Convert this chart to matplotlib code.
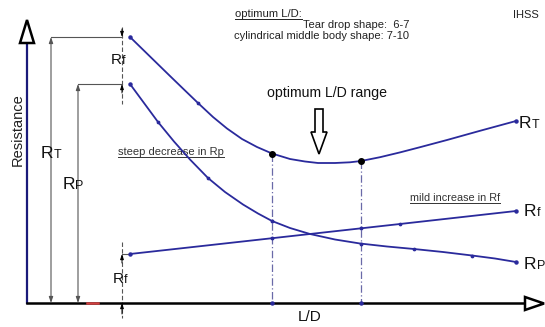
import numpy as np
import matplotlib
matplotlib.use('Agg')
import matplotlib.pyplot as plt
from matplotlib.patches import Polygon

plt.rcParams['font.family'] = ['Liberation Sans', 'DejaVu Sans']

# schematic drawn in picture units (x = L/D position, y = resistance level, y grows downward)
rt_x = [130, 150, 170, 185, 198, 213, 227, 242, 257, 272, 290, 305, 318, 335, 350, 361, 380, 400, 420, 447, 480, 516]
rt_y = [37, 56.5, 76, 90.5, 103, 117, 128.5, 139, 147, 153.5, 159, 161.5, 163, 163, 162.3, 161, 157.2, 152.4, 147.2, 140, 130.8, 121]

rp_x = [130, 144, 158, 174, 190, 208, 225, 243, 258, 272, 290, 310, 335, 360, 387, 414, 443, 472, 495, 516]
rp_y = [84, 103, 122, 141.5, 159.5, 178, 192, 204.5, 213.5, 221, 228, 234, 239.5, 243.5, 246.5, 249, 252, 255.5, 258.5, 262]

rf_x = [130, 400, 516]
rf_y = [254, 224, 211]

opt_x = [272, 361]
opt_y = [153.5, 161]

rt_marks = [4]
rp_marks = [2, 5, 15, 17]
rf_marks = [1]

axis_y = 303
curve_col = '#2a2a9c'
dim_col = '#555555'

fig = plt.figure(figsize=(5.45, 3.27), dpi=100)
ax = fig.add_axes([0, 0, 1, 1])
ax.set_xlim(0, 545)
ax.set_ylim(327, 0)
ax.axis('off')

# axes
ax.plot([27, 27], [axis_y, 43], color='#1a1a7a', lw=1.6, zorder=3)
ax.plot([27, 525], [axis_y, axis_y], color='black', lw=1.8, zorder=3)
ax.add_patch(Polygon([(20, 43), (27, 20), (34, 43)], closed=True, fc='white', ec='black', lw=1.8, zorder=4))
ax.add_patch(Polygon([(525, 297), (544, 303.5), (525, 310)], closed=True, fc='white', ec='black', lw=1.8, zorder=4))
ax.plot([87, 98], [axis_y, axis_y], color='#d04040', lw=1.8, zorder=4)

# curves
for xs, ys, marks in [(rt_x, rt_y, rt_marks), (rp_x, rp_y, rp_marks), (rf_x, rf_y, rf_marks)]:
    ax.plot(xs, ys, color=curve_col, lw=1.3, zorder=5, solid_joinstyle='round')
    ax.plot([xs[0], xs[-1]], [ys[0], ys[-1]], 'o', color=curve_col, ms=2.2, zorder=6)
    ax.plot([xs[i] for i in marks], [ys[i] for i in marks], 'o', color=curve_col, ms=1.7, zorder=6)

# optimum range markers
for x, y in zip(opt_x, opt_y):
    ax.plot([x, x], [y, axis_y], color='#6a6aa8', lw=0.9, ls=(0, (6, 2, 1, 2)), zorder=2)
    ax.plot(x, axis_y, 'o', color=curve_col, ms=2.2, zorder=6)
    ax.plot([x, x], [np.interp(x, rp_x, rp_y), np.interp(x, rf_x, rf_y)], 'o',
            color=curve_col, ms=1.8, zorder=6)
ax.plot(opt_x, opt_y, 'o', color='black', ms=4, zorder=7)

# dimension lines
arrow_kw = dict(arrowstyle='<|-|>,head_length=0.35,head_width=0.12', color=dim_col, lw=0.8,
                shrinkA=0, shrinkB=0)
ax.annotate('', xy=(51, rt_y[0]), xytext=(51, axis_y), arrowprops=arrow_kw)
ax.annotate('', xy=(78, rp_y[0]), xytext=(78, axis_y), arrowprops=arrow_kw)
ax.plot([51, 122], [rt_y[0], rt_y[0]], color=dim_col, lw=0.8)
ax.plot([78, 122], [rp_y[0], rp_y[0]], color=dim_col, lw=0.8)
ax.plot([122, 130], [rf_y[0], rf_y[0]], color=dim_col, lw=0.8)

small_kw = dict(arrowstyle='-|>,head_length=0.3,head_width=0.1', color='black', lw=0.7,
                shrinkA=0, shrinkB=0)
ax.plot([122, 122], [27, 104], color=dim_col, lw=0.8, ls=(0, (4, 2)))
ax.plot([122, 122], [242, 318], color=dim_col, lw=0.8, ls=(0, (4, 2)))
ax.annotate('', xy=(122, rt_y[0]), xytext=(122, 29), arrowprops=small_kw)
ax.annotate('', xy=(122, rp_y[0]), xytext=(122, 93), arrowprops=small_kw)
ax.annotate('', xy=(122, rf_y[0]), xytext=(122, 263), arrowprops=small_kw)
ax.annotate('', xy=(122, axis_y), xytext=(122, 314), arrowprops=small_kw)

# optimum arrow
ax.add_patch(Polygon([(315, 109), (323, 109), (323, 132), (327, 132), (319, 154), (311, 132), (315, 132)],
                     closed=True, fc='white', ec='black', lw=1.2, zorder=4))


def r_label(x, y, sub, big=12.5, small=9):
    ax.text(x, y, 'R', fontsize=big, va='baseline', ha='left', color='#111111')
    ax.text(x + big * 1.0, y, sub, fontsize=small, va='baseline', ha='left', color='#111111')


r_label(519, 128, 'T')
r_label(524, 216, 'f')
r_label(524, 269, 'P')
r_label(41, 158, 'T')
r_label(63, 189, 'P')
r_label(111, 64, 'f', big=11, small=9)
r_label(113, 283, 'f', big=11, small=9)

txt_col = '#222222'
under = []
under.append(ax.text(235, 17, 'optimum L/D:', fontsize=8.1, va='baseline', color=txt_col))
ax.text(409, 28, 'Tear drop shape:  6-7', fontsize=8, va='baseline', ha='right', color=txt_col)
ax.text(409, 39, 'cylindrical middle body shape: 7-10', fontsize=8, va='baseline', ha='right', color=txt_col)
ax.text(526, 15, 'IHSS', fontsize=8, va='center', ha='center', color=txt_col)
ax.text(327, 93, 'optimum L/D range', fontsize=10.2, va='center', ha='center', color='#111111')
under.append(ax.text(118, 155, 'steep decrease in Rp', fontsize=8, va='baseline', color='#333333'))
under.append(ax.text(410, 201, 'mild increase in Rf', fontsize=7.8, va='baseline', color='#333333'))
ax.text(18, 130, 'Resistance', fontsize=10.5, rotation=90, va='center', ha='center', color='#222222')
ax.text(310, 317, 'L/D', fontsize=11, va='center', ha='center', color='#111111')

fig.canvas.draw()
inv = ax.transData.inverted()
for t in under:
    bb = t.get_window_extent()
    x0 = inv.transform((bb.x0, bb.y0))[0]
    x1 = inv.transform((bb.x1, bb.y0))[0]
    yb = t.get_position()[1] + 2
    ax.plot([x0, x1], [yb, yb], color=t.get_color(), lw=0.7)

fig.savefig('out.png', dpi=100, facecolor='white')
